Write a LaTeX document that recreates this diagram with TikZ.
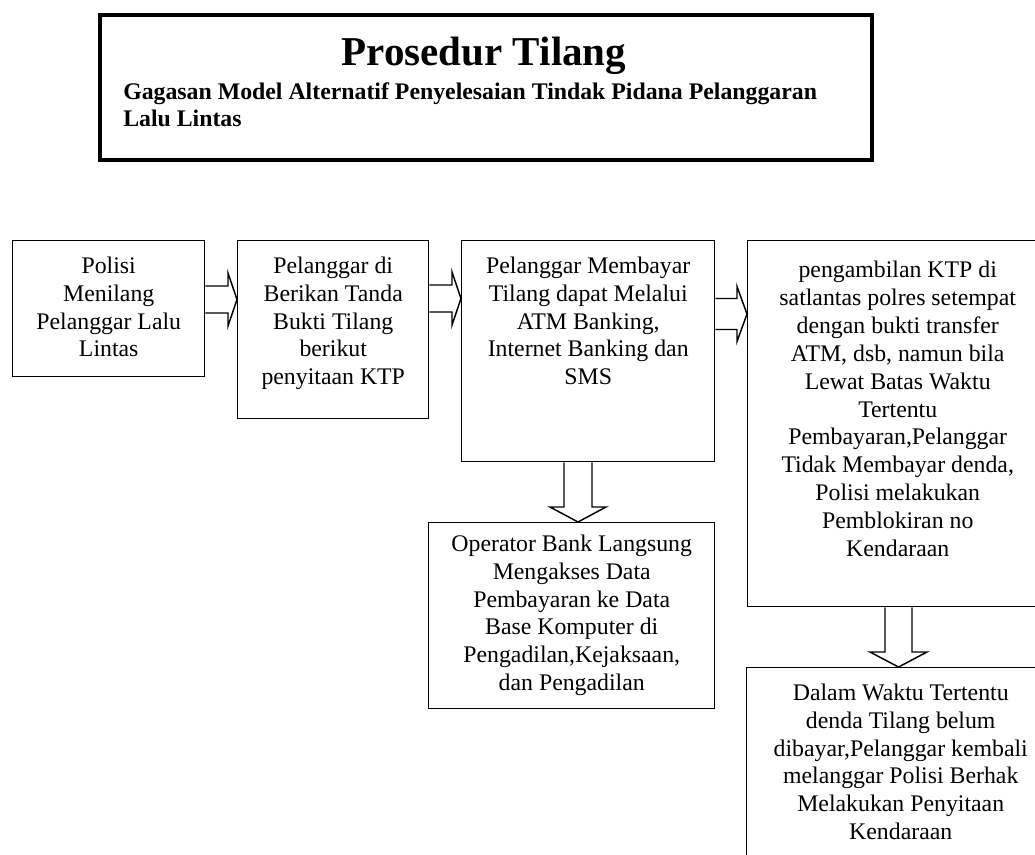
\documentclass[tikz,border=0pt]{standalone}
\usepackage{fontspec}
\setmainfont{Liberation Serif}
\usetikzlibrary{calc}

% horizontal block arrow: start, tip, half shaft, half head, head length
\newcommand\hblockarrow[5]{%
  \draw[blockarrow] ($(#1)+(0,-#3)$) -- ($(#2)+(-#5,-#3)$) -- ($(#2)+(-#5,-#4)$)
    -- (#2) -- ($(#2)+(-#5,#4)$) -- ($(#2)+(-#5,#3)$) -- ($(#1)+(0,#3)$);}
% vertical block arrow (pointing down): start, tip, half shaft, half head, head length
\newcommand\vblockarrow[5]{%
  \draw[blockarrow] ($(#1)+(-#3,0)$) -- ($(#2)+(-#3,-#5)$) -- ($(#2)+(-#4,-#5)$)
    -- (#2) -- ($(#2)+(#4,-#5)$) -- ($(#2)+(#3,-#5)$) -- ($(#1)+(#3,0)$);}

\begin{document}
\begin{tikzpicture}[x=0.75pt,y=-0.75pt,
  box/.style={draw,line width=1.1pt,anchor=north west,inner sep=0pt},
  frame/.style={draw,line width=3pt,anchor=north west,inner sep=0pt},
  txt/.style={anchor=north,inner sep=0pt,align=center,
    font=\fontsize{17.85pt}{20.9pt}\selectfont},
  subtxt/.style={anchor=north west,inner sep=0pt,align=left,
    font=\fontsize{17.85pt}{20.55pt}\selectfont\bfseries},
  titletxt/.style={anchor=base,inner sep=0pt,
    font=\fontsize{30.75pt}{35pt}\selectfont\bfseries},
  blockarrow/.style={draw,line width=1.1pt,line join=miter}]
\clip (0,0) rectangle (1035,854);
\fill[white] (0,0) rectangle (1035,854);

% heading
\node[frame,minimum width=772*0.75pt,minimum height=145*0.75pt] (head) at (98,13) {};
\node[titletxt] (ttl) at (484,65) {Prosedur Tilang};
\node[subtxt] (sub) at (123,82) {Gagasan Model Alternatif Penyelesaian Tindak Pidana Pelanggaran\\Lalu Lintas};

% process boxes
\node[box,minimum width=192*0.75pt,minimum height=136*0.75pt] (b1) at (12,240) {};
\node[box,minimum width=191*0.75pt,minimum height=178*0.75pt] (b2) at (237,240) {};
\node[box,minimum width=253*0.75pt,minimum height=221*0.75pt] (b3) at (461,240) {};
\node[box,minimum width=300*0.75pt,minimum height=366*0.75pt] (b4) at (747,240) {};
\node[box,minimum width=286*0.75pt,minimum height=186*0.75pt] (b5) at (428,522) {};
\node[box,minimum width=308*0.75pt,minimum height=220*0.75pt] (b6) at (746,667) {};

% box texts (first baseline placed below each box top)
\node[txt] (t1) at ($(b1.north)+(0,16.6)$) {Polisi\\Menilang\\Pelanggar Lalu\\Lintas};
\node[txt] (t2) at ($(b2.north)+(0,16.6)$) {Pelanggar di\\Berikan Tanda\\Bukti Tilang\\berikut\\penyitaan KTP};
\node[txt] (t3) at ($(b3.north)+(0,16.6)$) {Pelanggar Membayar\\Tilang dapat Melalui\\ATM Banking,\\Internet Banking dan\\SMS};
\node[txt] (t4) at ($(b4.north)+(0,21)$) {pengambilan KTP di\\satlantas polres setempat\\dengan bukti transfer\\ATM, dsb, namun bila\\Lewat Batas Waktu\\Tertentu\\Pembayaran,Pelanggar\\Tidak Membayar denda,\\Polisi melakukan\\Pemblokiran no\\Kendaraan};
\node[txt] (t5) at ($(b5.north)+(0,12.6)$) {Operator Bank Langsung\\Mengakses Data\\Pembayaran ke Data\\Base Komputer di\\Pengadilan,Kejaksaan,\\dan Pengadilan};
\node[txt] (t6) at ($(b6.north)+(0,16.6)$) {Dalam Waktu Tertentu\\denda Tilang belum\\dibayar,Pelanggar kembali\\melanggar Polisi Berhak\\Melakukan Penyitaan\\Kendaraan};

% arrow end points
\coordinate (a12s) at (b1.east |- 0,299.5);
\coordinate (a12e) at (b2.west |- a12s);
\coordinate (a23s) at (b2.east |- 0,298.5);
\coordinate (a23e) at (b3.west |- a23s);
\coordinate (a34s) at (b3.east |- 0,314);
\coordinate (a34e) at (b4.west |- a34s);
\coordinate (a35s) at (578,0 |- b3.south);
\coordinate (a35e) at (a35s |- b5.north);
\coordinate (a46s) at (898.5,0 |- b4.south);
\coordinate (a46e) at (a46s |- b6.north);

% block arrows
\hblockarrow{a12s}{a12e}{13.5}{26.5}{9}
\hblockarrow{a23s}{a23e}{13.5}{26.5}{9}
\hblockarrow{a34s}{a34e}{15.5}{27.5}{10}
\vblockarrow{a35s}{a35e}{14}{28}{15}
\vblockarrow{a46s}{a46e}{13.5}{28.5}{15}
\end{tikzpicture}
\end{document}
